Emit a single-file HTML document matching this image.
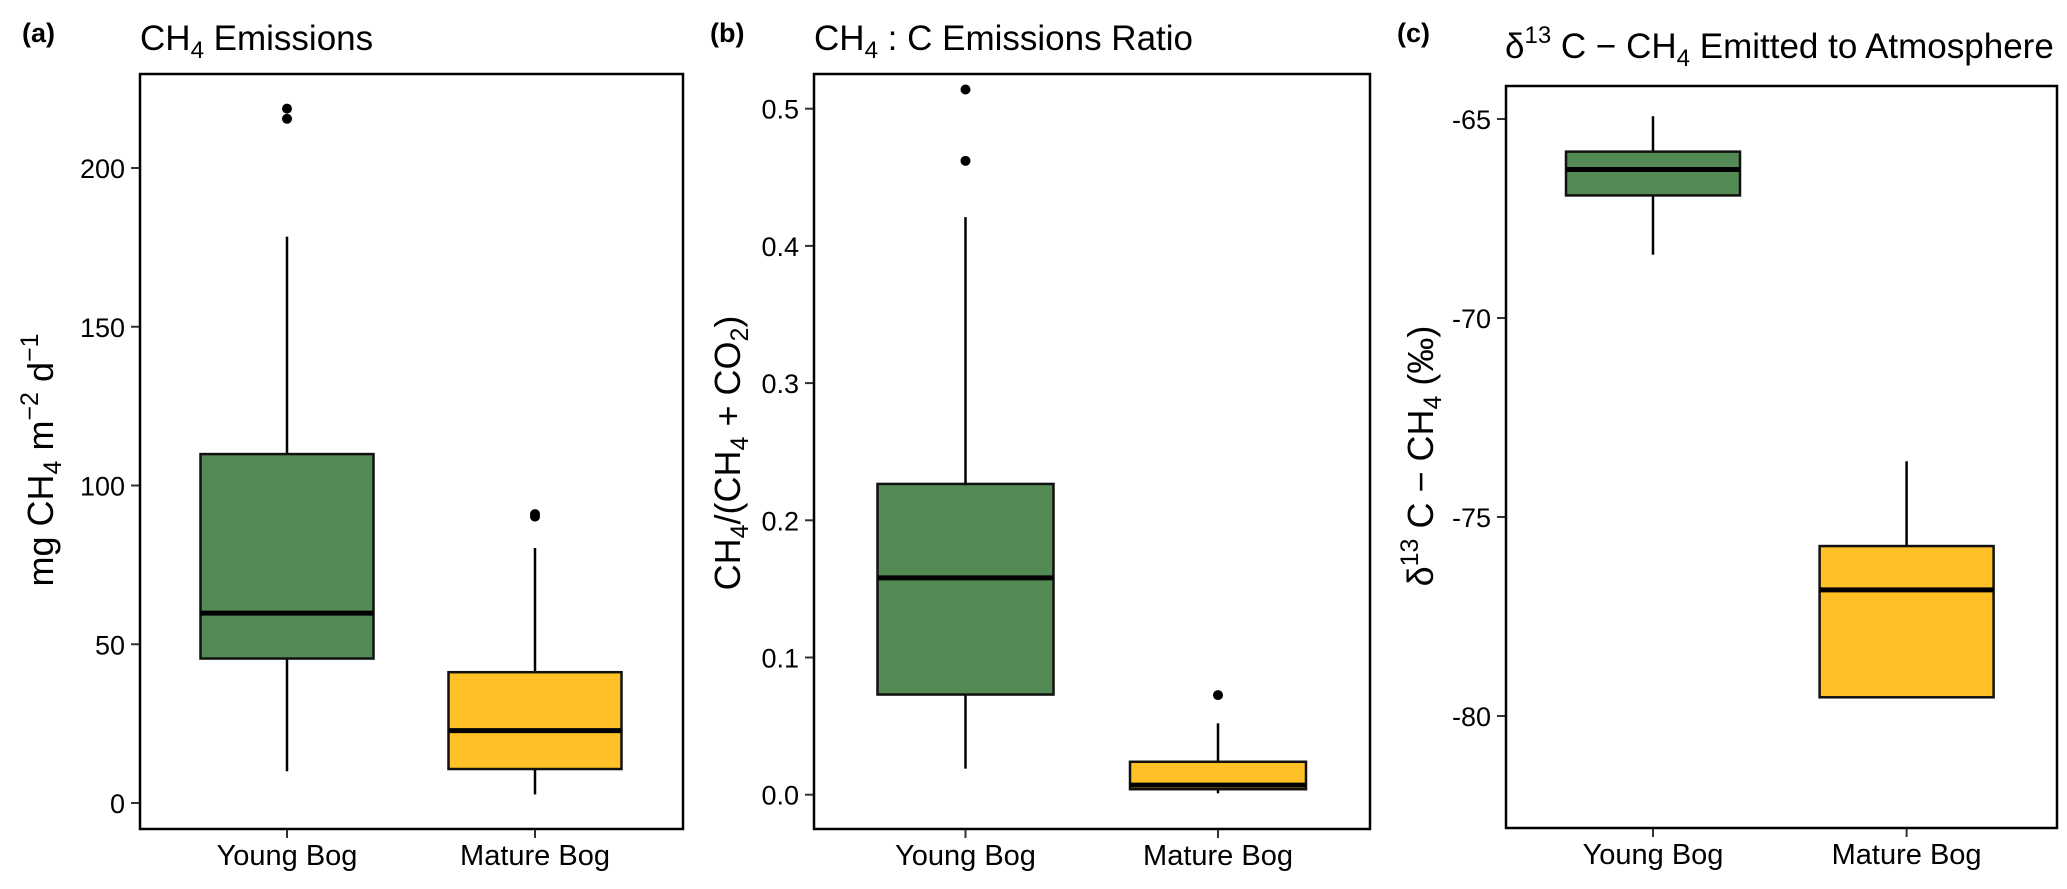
<!DOCTYPE html>
<html><head><meta charset="utf-8"><style>
html,body{margin:0;padding:0;background:#fff}
svg{display:block;font-family:"Liberation Sans",sans-serif}
</style></head><body>
<svg id="fig" width="2067" height="889" viewBox="0 0 2067 889">
<g>
<text x="22" y="42" font-size="27" font-weight="bold">(a)</text>
<text x="140" y="50" font-size="35">CH<tspan font-size="24" dy="8">4</tspan><tspan dy="-8"> Emissions</tspan></text>
<text transform="translate(53,460) rotate(-90)" text-anchor="middle" font-size="36">mg CH<tspan font-size="25" dy="8">4</tspan><tspan dy="-8"> m</tspan><tspan font-size="25" dy="-15">−2</tspan><tspan dy="15"> d</tspan><tspan font-size="25" dy="-15">−1</tspan></text>
</g>
<g>
<text x="710" y="42" font-size="27" font-weight="bold">(b)</text>
<text x="814" y="50" font-size="35">CH<tspan font-size="24" dy="8">4</tspan><tspan dy="-8"> : C Emissions Ratio</tspan></text>
<text transform="translate(740,453) rotate(-90)" text-anchor="middle" font-size="36">CH<tspan font-size="25" dy="8">4</tspan><tspan dy="-8">/(CH</tspan><tspan font-size="25" dy="8">4</tspan><tspan dy="-8"> + CO</tspan><tspan font-size="25" dy="8">2</tspan><tspan dy="-8">)</tspan></text>
</g>
<g>
<text x="1397" y="42" font-size="27" font-weight="bold">(c)</text>
<text x="1505" y="58" font-size="35">δ<tspan font-size="24" dy="-15">13</tspan><tspan dy="15"> C − CH</tspan><tspan font-size="24" dy="8">4</tspan><tspan dy="-8"> Emitted to Atmosphere</tspan></text>
<text transform="translate(1433,456) rotate(-90)" text-anchor="middle" font-size="36">δ<tspan font-size="25" dy="-15">13</tspan><tspan dy="15"> C − CH</tspan><tspan font-size="25" dy="8">4</tspan><tspan dy="-8"> (‰)</tspan></text>
</g>
</svg>
<script>
const categories = ["Young Bog", "Mature Bog"];
// panel a
const aLow = [10, 2.7], aQ1 = [45.5, 10.7], aMed = [59.8, 22.8], aQ3 = [109.9, 41.2], aHigh = [178.4, 80.3];
const aOut = [[215.5, 218.7], [90.2, 91]];
const aTicks = [0, 50, 100, 150, 200];
const aTickLabels = ["0", "50", "100", "150", "200"];
// panel b
const bLow = [0.019, 0.001], bQ1 = [0.073, 0.004], bMed = [0.158, 0.007], bQ3 = [0.2265, 0.024], bHigh = [0.421, 0.052];
const bOut = [[0.462, 0.514], [0.0726]];
const bTicks = [0, 0.1, 0.2, 0.3, 0.4, 0.5];
const bTickLabels = ["0.0", "0.1", "0.2", "0.3", "0.4", "0.5"];
// panel c
const cLow = [-68.41, -79.53], cQ1 = [-66.92, -79.53], cMed = [-66.27, -76.83], cQ3 = [-65.82, -75.73], cHigh = [-64.93, -73.6];
const cOut = [[], []];
const cTicks = [-80, -75, -70, -65];
const cTickLabels = ["-80", "-75", "-70", "-65"];

const fills = ["#548B54", "#FFC125"];
const NS = "http://www.w3.org/2000/svg";
const svg = document.getElementById("fig");
function mk(tag, attrs, parent) {
  const e = document.createElementNS(NS, tag);
  for (const k in attrs) e.setAttribute(k, attrs[k]);
  (parent || svg).appendChild(e);
  return e;
}
function panel(id, box, yMap, xCenters, halfW, low, q1, med, q3, high, outs, ticks, tickLabels) {
  const g = mk("g", {});
  
  
  const ys = v => yMap[0] + (v - yMap[1]) * yMap[2];
  categories.forEach((c, i) => {
    const cx = xCenters[i];
    const bg = mk("g", {}, g);
    
    
    mk("line", {x1: cx, x2: cx, y1: ys(high[i]), y2: ys(q3[i]), stroke: "#000", "stroke-width": 2.5}, bg);
    mk("line", {x1: cx, x2: cx, y1: ys(q1[i]), y2: ys(low[i]), stroke: "#000", "stroke-width": 2.5}, bg);
    mk("rect", {x: cx - halfW, y: ys(q3[i]), width: 2 * halfW, height: ys(q1[i]) - ys(q3[i]), fill: fills[i], stroke: "#111", "stroke-width": 2.5}, bg);
    mk("line", {x1: cx - halfW, x2: cx + halfW, y1: ys(med[i]), y2: ys(med[i]), stroke: "#000", "stroke-width": 5}, bg);
    outs[i].forEach(v => {
      const o = mk("circle", {cx: cx, cy: ys(v), r: 5, fill: "#000"}, bg);
      
      
    });
    mk("line", {x1: cx, x2: cx, y1: box[3], y2: box[3] + 9, stroke: "#333", "stroke-width": 2}, g);
    const lab = mk("text", {x: cx, y: box[3] + 36, "text-anchor": "middle", "font-size": 29, fill: "#000"}, g);
    lab.textContent = c;
    
    
  });
  ticks.forEach((v, k) => {
    const y = ys(v);
    mk("line", {x1: box[0] - 9, x2: box[0], y1: y, y2: y, stroke: "#333", "stroke-width": 2}, g);
    const t = mk("text", {x: box[0] - 15, y: y + 10, "text-anchor": "end", "font-size": 27, fill: "#000"}, g);
    t.textContent = tickLabels[k];
    
    
  });
  const fr = mk("rect", {x: box[0], y: box[1], width: box[2] - box[0], height: box[3] - box[1], fill: "none", stroke: "#000", "stroke-width": 2.5}, g);
  
  
}
panel("panel-a", [140, 74, 683, 829], [803, 0, -(803 - 168) / 200], [287, 535], 86.5, aLow, aQ1, aMed, aQ3, aHigh, aOut, aTicks, aTickLabels);
panel("panel-b", [814, 74, 1370, 829], [794.7, 0, -(794.7 - 108.7) / 0.5], [965.5, 1218], 88, bLow, bQ1, bMed, bQ3, bHigh, bOut, bTicks, bTickLabels);
panel("panel-c", [1506, 86, 2057, 828], [716, -80, -(716 - 119) / 15], [1653, 1906.6], 87, cLow, cQ1, cMed, cQ3, cHigh, cOut, cTicks, cTickLabels);
</script>
</body></html>
